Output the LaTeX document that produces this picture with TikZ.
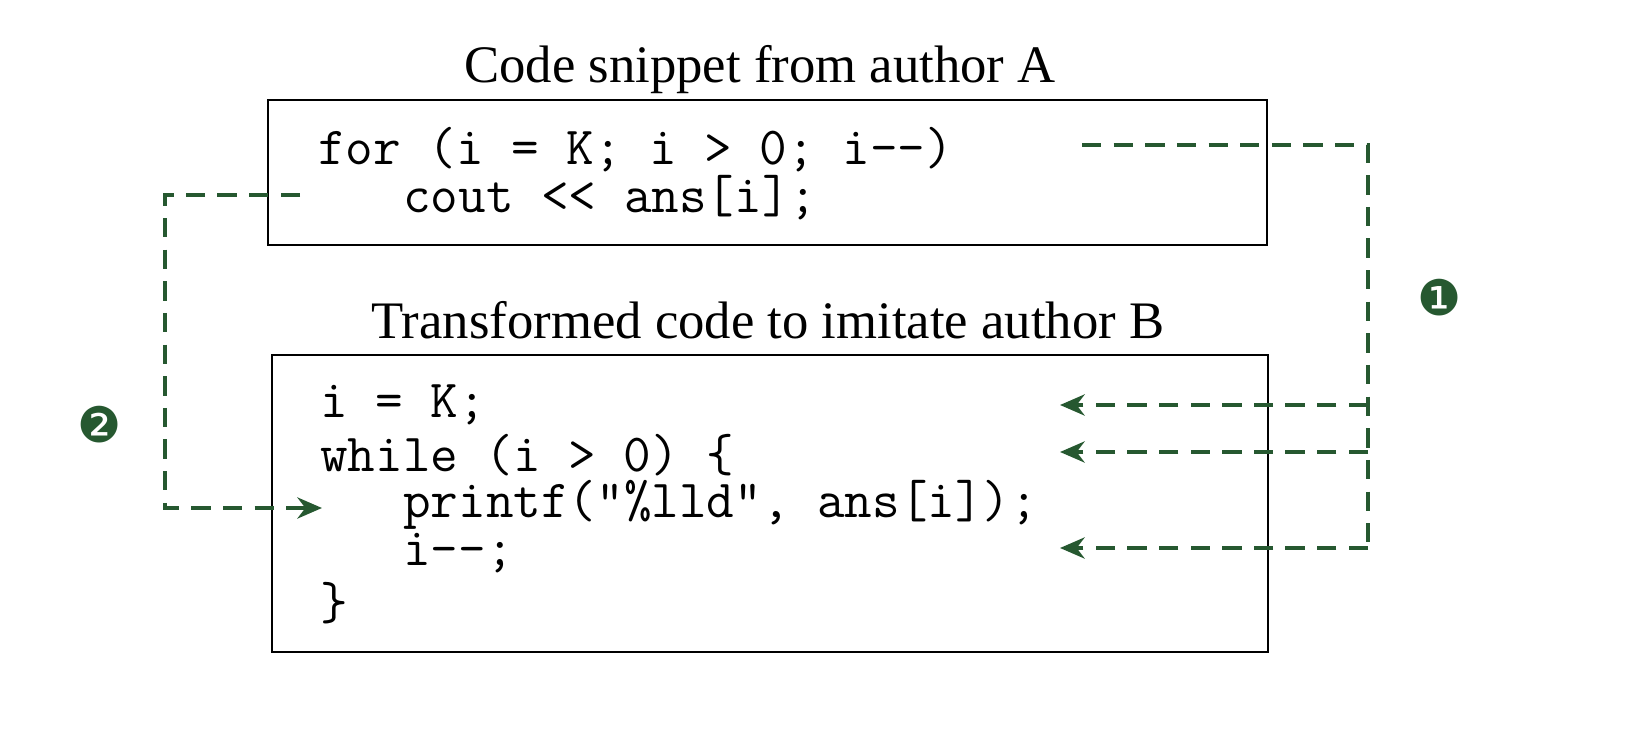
\documentclass[tikz,border=0pt]{standalone}
\usepackage{fontspec}
\setmainfont{Liberation Serif}
\newfontfamily\dingfont{DejaVu Sans}
\usetikzlibrary{arrows.meta}
\definecolor{dgreen}{RGB}{38,88,48}
\tikzset{
  codeline/.style={anchor=west, inner sep=0pt, font=\fontsize{30.5}{34}\selectfont\ttfamily},
  title/.style={inner sep=0pt, font=\fontsize{30}{36}\selectfont},
  codebox/.style={draw, line width=1.6pt},
  link/.style={dgreen, line width=2.4pt, dash pattern=on 11pt off 7pt},
  linkarrow/.style={link, -{Stealth[length=14pt,width=12pt]}},
  num/.style={dgreen, font=\fontsize{28}{30}\selectfont\dingfont}
}
\begin{document}
\begin{tikzpicture}[x=0.02cm, y=-0.02cm]
  \useasboundingbox (0,0) rectangle (1652,732);
  % box A
  \node[title] (titleA) at (760,70) {Code snippet from author A};
  \draw[codebox] (268,100) rectangle (1267,245);
  \node[codeline] (a1) at (318,150) {for (i = K; i > 0; i--)};
  \node[codeline] (a2) at (403,198) {cout << ans[i];};
  % box B
  \node[title] (titleB) at (768,320) {Transformed code to imitate author B};
  \draw[codebox] (272,355) rectangle (1268,652);
  \node[codeline] (b1) at (320,405) {i = K;};
  \node[codeline] (b2) at (320,455) {while (i > 0) \{};
  \node[codeline] (b3) at (403,505) {printf("\%lld", ans[i]);};
  \node[codeline] (b4) at (403,553) {i--;};
  \node[codeline] (b5) at (320,603) {\}};
  % link 1
  \coordinate (s1) at (1082,145);
  \coordinate (c1) at (1368,145);
  \coordinate (t1) at (1060,405);
  \coordinate (t2) at (1060,452);
  \coordinate (t3) at (1060,548);
  \draw[link] (s1) -- (c1) -- (c1 |- t3);
  \draw[linkarrow] (c1 |- t1) -- (t1);
  \draw[linkarrow] (c1 |- t2) -- (t2);
  \draw[linkarrow] (c1 |- t3) -- (t3);
  \node[num] (n1) at (1440,298) {❶};
  % link 2
  \coordinate (s2) at (300,195);
  \coordinate (c2) at (165,195);
  \coordinate (t4) at (322,508);
  \draw[linkarrow] (s2) -- (c2) |- (t4);
  \node[num] (n2) at (100,425) {❷};
\end{tikzpicture}
\end{document}
